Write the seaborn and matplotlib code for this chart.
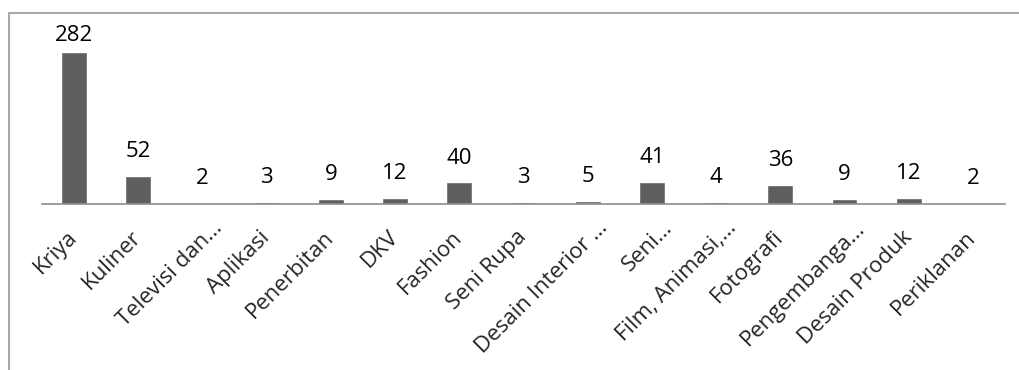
import matplotlib
matplotlib.use("Agg")
import matplotlib.pyplot as plt
import seaborn as sns
import pandas as pd
from matplotlib.lines import Line2D
from matplotlib.transforms import ScaledTranslation

categories = ['Kriya', 'Kuliner', 'Televisi dan…', 'Aplikasi', 'Penerbitan', 'DKV',
              'Fashion', 'Seni Rupa', 'Desain Interior …', 'Seni…', 'Film, Animasi,…',
              'Fotografi', 'Pengembanga…', 'Desain Produk', 'Periklanan']
values = [282, 52, 2, 3, 9, 12, 40, 3, 5, 41, 4, 36, 9, 12, 2]

bar_color = '#5f5f5f'

sns.set_style("white")
plt.rcParams['font.family'] = ['Open Sans', 'DejaVu Sans']

df = pd.DataFrame({'cat': categories, 'val': values})

fig = plt.figure(figsize=(10.19, 3.70), dpi=100)
ax = fig.add_axes([42 / 1019, 166 / 370, 963 / 1019, 162 / 370])

sns.barplot(data=df, x='cat', y='val', color=bar_color, width=0.4,
            saturation=1, ax=ax)
labels = ax.bar_label(ax.containers[0], padding=10, fontsize=16, color='black')
# the tallest label is pushed down to stay inside the plot area (like excel)
labels[0].xyann = (0, 4)

ax.set_ylim(0, 300)
ax.set_xlim(-0.5, len(categories) - 0.5)
ax.set_yticks([])
ax.set_xlabel('')
ax.set_ylabel('')
for s in ['top', 'right', 'left']:
    ax.spines[s].set_visible(False)
ax.spines['bottom'].set_color('#8c8c8c')
ax.spines['bottom'].set_linewidth(1.2)

ax.tick_params(axis='x', length=0, pad=0)
for lab in ax.get_xticklabels():
    lab.set_rotation(45)
    lab.set_ha('right')
    lab.set_va('baseline')
    lab.set_rotation_mode('anchor')
    lab.set_fontsize(16)
    # truncated labels stick out a bit further
    if lab.get_text().endswith('…'):
        dx, dy = 21, -25
    else:
        dx, dy = 4, -34
    lab.set_transform(lab.get_transform() +
                      ScaledTranslation(dx / 100, dy / 100, fig.dpi_scale_trans))

# chart border (only left and top visible in the crop)
fig.add_artist(Line2D([8.5 / 1019, 8.5 / 1019], [0, 1 - 13 / 370],
                      transform=fig.transFigure, color='#a9a9a9', lw=1.5))
fig.add_artist(Line2D([8.5 / 1019, 1], [1 - 13 / 370, 1 - 13 / 370],
                      transform=fig.transFigure, color='#a9a9a9', lw=1.5))

fig.savefig('out.png', dpi=100)
